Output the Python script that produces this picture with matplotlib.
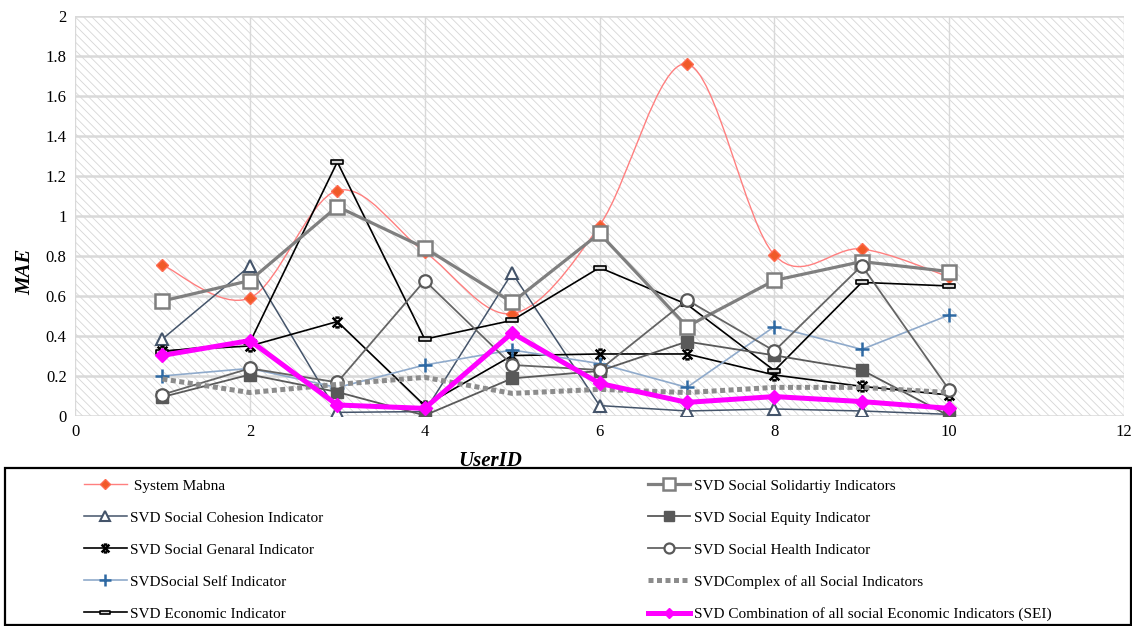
import numpy as np
import matplotlib
matplotlib.use("Agg")
import matplotlib.pyplot as plt
from matplotlib.path import Path
from matplotlib.patches import PathPatch, Rectangle
from matplotlib.lines import Line2D

plt.rcParams["font.family"] = ["Liberation Serif", "DejaVu Serif"]
plt.rcParams["hatch.linewidth"] = 0.6

user_id = [1, 2, 3, 4, 5, 6, 7, 8, 9, 10]

mabna = [0.755, 0.59, 1.127, 0.82, 0.512, 0.952, 1.76, 0.805, 0.835, 0.695]
cohesion = [0.385, 0.75, 0.018, 0.022, 0.715, 0.052, 0.025, 0.035, 0.025, 0.008]
general = [0.325, 0.35, 0.472, 0.052, 0.302, 0.31, 0.31, 0.205, 0.148, 0.105]
self_ind = [0.2, 0.238, 0.142, 0.255, 0.33, 0.262, 0.143, 0.447, 0.333, 0.505]
economic = [0.322, 0.368, 1.27, 0.384, 0.478, 0.742, 0.558, 0.227, 0.668, 0.65]
solidarity = [0.575, 0.677, 1.047, 0.84, 0.568, 0.913, 0.447, 0.678, 0.772, 0.722]
equity = [0.095, 0.207, 0.12, 0.003, 0.188, 0.225, 0.372, 0.303, 0.23, 0.0]
health = [0.107, 0.238, 0.168, 0.677, 0.255, 0.23, 0.58, 0.325, 0.752, 0.13]
complex_all = [0.185, 0.117, 0.158, 0.193, 0.113, 0.133, 0.117, 0.143, 0.143, 0.117]
sei = [0.303, 0.377, 0.055, 0.038, 0.415, 0.163, 0.068, 0.097, 0.072, 0.038]

labels = [
    " System Mabna",
    "SVD Social Cohesion Indicator",
    "SVD Social Genaral Indicator",
    "SVDSocial Self Indicator",
    "SVD Economic Indicator",
    "SVD Social Solidartiy Indicators",
    "SVD Social Equity Indicator",
    "SVD Social Health Indicator",
    "SVDComplex of all Social Indicators",
    "SVD Combination of all social Economic Indicators (SEI)",
]

# custom markers: cross with short caps and a flat dash box
star_path = Path([(-1, -1), (1, 1), (-1, 1), (1, -1),
                  (-0.45, 1), (0.45, 1), (-0.45, -1), (0.45, -1)],
                 [Path.MOVETO, Path.LINETO] * 4)
dash_path = Path([(-1, -0.3), (1, -0.3), (1, 0.3), (-1, 0.3), (-1, -0.3)],
                 [Path.MOVETO, Path.LINETO, Path.LINETO, Path.LINETO, Path.CLOSEPOLY])


def smooth_path(xs, ys, t=1 / 6):
    n = len(xs)
    verts = [(xs[0], ys[0])]
    codes = [Path.MOVETO]
    for i in range(n - 1):
        a = max(i - 1, 0)
        b = min(i + 2, n - 1)
        c1 = (xs[i] + (xs[i + 1] - xs[a]) * t, ys[i] + (ys[i + 1] - ys[a]) * t)
        c2 = (xs[i + 1] - (xs[b] - xs[i]) * t, ys[i + 1] - (ys[b] - ys[i]) * t)
        verts += [c1, c2, (xs[i + 1], ys[i + 1])]
        codes += [Path.CURVE4] * 3
    return Path(verts, codes)


fig = plt.figure(figsize=(11.32, 6.26), dpi=100)

# legend frame below the plot, kept behind the axes
fig.patches.append(Rectangle((0.0044, 0.002), 0.995, 0.2504, transform=fig.transFigure,
                             facecolor="white", edgecolor="black", lw=1.6, zorder=-1))

ax = fig.add_axes([0.0663, 0.3355, 0.9267, 0.639])

# hatched plot area
ax.add_patch(Rectangle((0, 0), 1, 1, transform=ax.transAxes, facecolor="white",
                       edgecolor="#d6d6d6", hatch="\\\\\\\\", linewidth=0, zorder=0.1))

styles = [
    dict(color="#ff7f7f", lw=1.0, marker="D", ms=6, mfc="#f05a28", mec="#ff6a50"),
    dict(color="#44546a", lw=1.1, marker="^", ms=9, mfc="white", mec="#44546a", mew=1.5),
    dict(color="black", lw=1.2, marker=star_path, ms=7, mfc="none", mec="black", mew=1.8),
    dict(color="#8faacb", lw=1.2, marker="+", ms=10, mec="#2e69a3", mew=1.8),
    dict(color="black", lw=1.2, marker=dash_path, ms=9, mfc="#d9d9d9", mec="black", mew=1.2),
    dict(color="#7f7f7f", lw=2.3, marker="s", ms=10, mfc="white", mec="#7f7f7f", mew=1.8),
    dict(color="#595959", lw=1.3, marker="s", ms=9, mfc="#595959", mec="#595959"),
    dict(color="#646464", lw=1.3, marker="o", ms=9, mfc="white", mec="#595959", mew=1.6),
    dict(color="#8c8c8c", lw=3.6, ls=(0, (1, 0.7)), dash_capstyle="butt", marker=None),
    dict(color="#ff00ff", lw=3.6, marker="D", ms=7, mfc="#ff00ff", mec="#ff00ff"),
]
series = [mabna, cohesion, general, self_ind, economic,
          solidarity, equity, health, complex_all, sei]

handles = []
for i, (vals, st, lab) in enumerate(zip(series, styles, labels)):
    z = 2 + i
    if i == 0:
        ax.add_patch(PathPatch(smooth_path(user_id, vals), fill=False,
                               edgecolor=st["color"], lw=st["lw"], zorder=z))
        ax.plot(user_id, vals, ls="none", marker=st["marker"], ms=st["ms"],
                mfc=st["mfc"], mec=st["mec"], zorder=z)
        h = Line2D([], [], **st)
    else:
        h, = ax.plot(user_id, vals, zorder=z, **st)
    handles.append(h)

ax.set_xlim(0, 12)
ax.set_ylim(0, 2)
ax.set_xticks(range(0, 13, 2))
ax.set_yticks(np.arange(0, 2.01, 0.2))
ax.set_yticklabels(["0", "0.2", "0.4", "0.6", "0.8", "1", "1.2", "1.4", "1.6", "1.8", "2"])
ax.tick_params(length=0, labelsize=12, pad=6)
ax.grid(axis="y", color="#d9d9d9", lw=1.8)
ax.grid(axis="x", color="#d9d9d9", lw=1.0)
ax.set_axisbelow(True)
for s in ax.spines.values():
    s.set_visible(False)

ax.set_ylabel("MAE", fontsize=15, fontweight="bold", style="italic")
ax.yaxis.set_label_coords(-0.038, 0.36)
ax.set_xlabel("UserID", fontsize=15, fontweight="bold", style="italic")
ax.xaxis.set_label_coords(0.396, -0.088)

leg_kw = dict(frameon=False, fontsize=11, handlelength=2.8, handletextpad=0.25,
              labelspacing=1.2, borderaxespad=0, borderpad=0, markerscale=0.8)
fig.legend(handles[:5], labels[:5], loc="upper left",
           bbox_to_anchor=(0.074, 0.235), **leg_kw)
fig.legend(handles[5:], labels[5:], loc="upper left",
           bbox_to_anchor=(0.572, 0.235), **leg_kw)

fig.savefig("out.png", dpi=100)
